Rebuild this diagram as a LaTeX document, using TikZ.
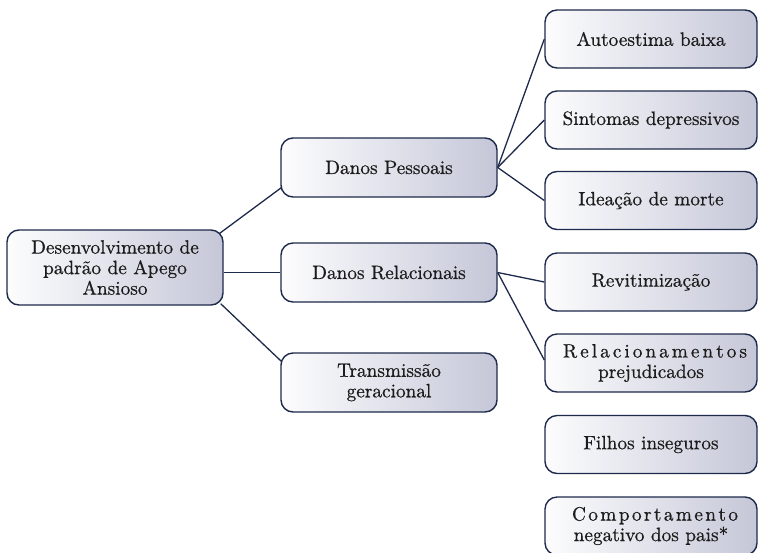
\documentclass[tikz,border=0pt]{standalone}
\usepackage{fontspec}
\setmainfont{lmroman10-regular.otf}[RawFeature={embolden=0.6}]
\usetikzlibrary{calc}
\definecolor{navy}{RGB}{30,42,75}
\definecolor{lav}{RGB}{197,199,216}
\definecolor{txt}{RGB}{28,28,28}
\newcommand\spreadtxt[2]{\hspace*{8pt}\makebox[#1][s]{#2}}
\tikzset{
  box/.style={draw=navy, line width=1.4pt, rounded corners=12pt,
    left color=white!96!lav, right color=lav,
    minimum width=216pt, minimum height=59pt, align=center, text=txt,
    font=\fontsize{19.3}{20.5}\selectfont, inner sep=2pt},
  leaf/.style={box, minimum width=212pt, minimum height=58pt},
  conn/.style={draw=navy, line width=1.3pt}
}
\begin{document}
\begin{tikzpicture}[x=1pt,y=-1pt]
\useasboundingbox (0,0) rectangle (759,552);
% root
\node[box, minimum height=75pt] (root) at (115,267.5) {Desenvolvimento de\\padrão de Apego\\Ansioso};
% level 1
\node[box] (dp) at (389,167.5) {Danos Pessoais};
\node[box] (dr) at (389,272.5) {Danos Relacionais};
\node[box] (tg) at (389,382.5) {Transmissão\\geracional};
% level 2
\node[leaf] (ab) at (651,39) {Autoestima baixa};
\node[leaf] (sd) at (651,120) {Sintomas depressivos};
\node[leaf] (im) at (651,200.5) {Ideação de morte};
\node[leaf] (rv) at (651,282) {Revitimização};
\node[leaf] (rp) at (651,363) {\spreadtxt{184pt}{R\hfil e\hfil l\hfil a\hfil c\hfil i\hfil o\hfil n\hfil a\hfil m\hfil e\hfil n\hfil t\hfil o\hfil s}\\prejudicados};
\node[leaf] (fi) at (651,444.5) {Filhos inseguros};
\node[leaf] (cn) at (651,526) {\spreadtxt{166pt}{C\hfil o\hfil m\hfil p\hfil o\hfil r\hfil t\hfil a\hfil m\hfil e\hfil n\hfil t\hfil o}\\negativo dos pais*};
% connectors
\draw[conn] ($(root.north east)+(-4,4)$) -- ($(dp.south west)+(1,-10)$);
\draw[conn] (dr.west -| root.east) -- (dr.west);
\draw[conn] ($(root.south east)+(-3,-2)$) -- ($(tg.north west)+(1,9)$);
\draw[conn] (dp.east) -- (ab.west);
\draw[conn] (dp.east) -- (sd.west);
\draw[conn] (dp.east) -- (im.west);
\draw[conn] (dr.east) -- (rv.west);
\draw[conn] (dr.east) -- ($(rp.west)+(0,-3)$);
\end{tikzpicture}
\end{document}
